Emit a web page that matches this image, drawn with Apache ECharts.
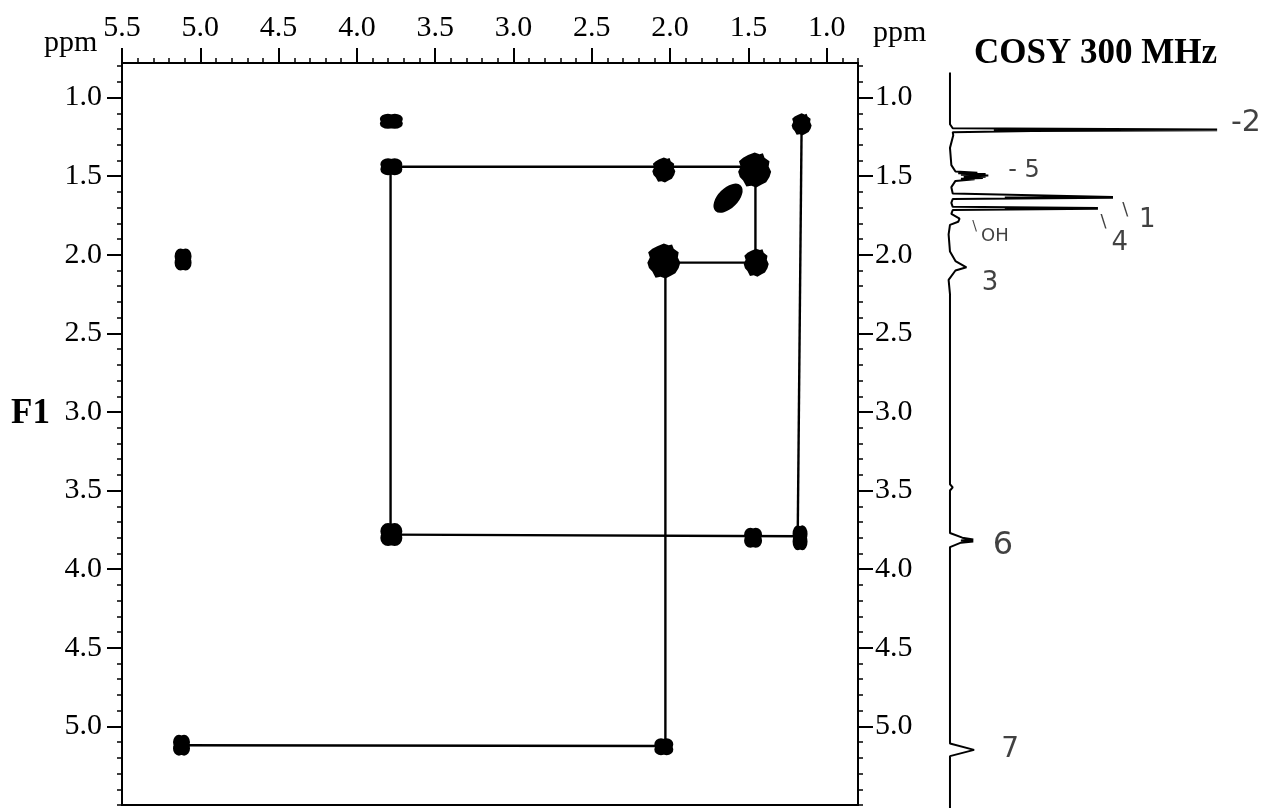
<!DOCTYPE html>
<html>
<head>
<meta charset="utf-8">
<script src="https://cdn.jsdelivr.net/npm/echarts@6/dist/echarts.min.js"></script>
<style>
  html, body { margin: 0; padding: 0; background: #fff; }
  #chart { width: 1274px; height: 809px; }
</style>
</head>
<body>
<div id="chart"></div>
<script>
// COSY cross and diagonal peaks: [F2 shift, F1 shift] in ppm
const crossPeaks = [
  [3.78, 1.15],
  [3.78, 1.44],
  [2.04, 1.46],
  [1.46, 1.46],
  [1.63, 1.64],
  [1.16, 1.17],
  [5.11, 2.03],
  [2.04, 2.04],
  [1.45, 2.05],
  [3.78, 3.78],
  [1.47, 3.80],
  [1.17, 3.80],
  [5.12, 5.12],
  [2.04, 5.13]
];

// Connectivity traces drawn between coupled peaks: [F2, F1] end points
const couplingPaths = [
  [[3.78, 1.44], [1.46, 1.44]],
  [[3.785, 1.44], [3.785, 3.78]],
  [[3.78, 3.78], [1.17, 3.79]],
  [[1.16, 1.17], [1.185, 3.79]],
  [[1.455, 1.46], [1.455, 2.05]],
  [[2.04, 2.05], [1.455, 2.05]],
  [[2.03, 2.04], [2.03, 5.13]],
  [[5.12, 5.12], [2.04, 5.125]]
];

// Labelled tick values (ppm)
const f2Ticks = [1.0, 1.5, 2.0, 2.5, 3.0, 3.5, 4.0, 4.5, 5.0, 5.5];
const f1Ticks = [1.0, 1.5, 2.0, 2.5, 3.0, 3.5, 4.0, 4.5, 5.0];

// 1D proton trace along F1: [relative intensity, ppm]
const spectrumTrace = [
  [0, 0.84], [0, 1.17], [0.01, 1.195], [0.975, 1.203], [0.16, 1.206], [0.975, 1.208],
  [0.3, 1.212], [0.01, 1.22], [0.012, 1.24], [0, 1.32], [0.005, 1.43], [0.02, 1.47],
  [0.1, 1.478], [0.03, 1.482], [0.13, 1.487], [0.04, 1.491], [0.14, 1.496], [0.05, 1.5],
  [0.13, 1.504], [0.05, 1.508], [0.12, 1.512], [0.04, 1.516], [0.09, 1.52], [0.02, 1.53],
  [0.005, 1.57], [0.01, 1.61], [0.595, 1.632], [0.2, 1.635], [0.595, 1.638], [0.01, 1.645],
  [0.005, 1.67], [0.01, 1.695], [0.54, 1.702], [0.2, 1.705], [0.54, 1.708], [0.01, 1.715],
  [0.005, 1.74], [0.035, 1.77], [0.03, 1.79], [0, 1.81], [-0.005, 1.87], [0, 1.98],
  [0.02, 2.04], [0.06, 2.08], [0.02, 2.1], [-0.005, 2.16], [0, 2.25], [0, 3.46],
  [0.01, 3.48], [0, 3.5], [0, 3.77], [0.045, 3.8], [0.085, 3.812], [0.04, 3.818],
  [0.085, 3.824], [0.04, 3.832], [0, 3.86], [0, 5.11], [0.088, 5.15], [0, 5.19], [0, 5.52]
];

// Handwritten peak assignments next to the 1D trace: [intensity, ppm, text]
const peakNotes = [
  [1.08, 1.16, '-2'],
  [0.27, 1.466, '- 5'],
  [0.64, 1.72, '\\'],
  [0.72, 1.78, '1'],
  [0.56, 1.795, '\\'],
  [0.62, 1.93, '4'],
  [0.09, 1.82, '\\'],
  [0.164, 1.885, 'OH'],
  [0.146, 2.18, '3'],
  [0.193, 3.85, '6'],
  [0.22, 5.15, '7']
];

// ---- drawing setup ----
const SERIF = "'Liberation Serif','Times New Roman',serif";
const HAND = "'DejaVu Sans','Noto Sans',sans-serif";
const INK = '#000';

const minorTicks = [];
for (let k = 8; k <= 55; k++) minorTicks.push(k / 10);

// peak outlines
function lobe(cx, cy, r) {
  return 'M' + (cx - r) + ',' + cy + 'a' + r + ',' + r + ' 0 1,0 ' + (2 * r) + ',0' +
         'a' + r + ',' + r + ' 0 1,0 ' + (-2 * r) + ',0Z';
}
const SHAPES = {
  clover: 'path://' + lobe(1.4, 1.4, 1.4) + lobe(2.6, 1.4, 1.4) + lobe(1.4, 2.6, 1.4) + lobe(2.6, 2.6, 1.4),
  blob: 'path://M10,0L13,1L15,0.5L16,3L19,5L18.5,8L20,11L19,14L17,17L14,18.5L11,20L8,19L5,19.5L3,16L1,14L0,11L1.5,8L0.5,5L3,3L6,1.5Z',
  oval: 'path://M0,1a2,1 0 1,0 4,0a2,1 0 1,0 -4,0Z'
};
const peakLook = [
  { shape: 'clover', size: [23, 15] },
  { shape: 'clover', size: [22, 17] },
  { shape: 'blob', size: [23, 25] },
  { shape: 'blob', size: [33, 35] },
  { shape: 'oval', size: [36, 20], rotate: 45 },
  { shape: 'blob', size: [20, 22] },
  { shape: 'clover', size: [17, 22] },
  { shape: 'blob', size: [33, 35] },
  { shape: 'blob', size: [25, 28] },
  { shape: 'clover', size: [22, 23] },
  { shape: 'clover', size: [18, 20] },
  { shape: 'clover', size: [15, 25] },
  { shape: 'clover', size: [17, 21] },
  { shape: 'clover', size: [19, 17] }
];
const noteSize = [30, 24, 18, 26, 18, 26, 14, 18, 26, 32, 28];

function minorAxis(position, extent) {
  return {
    type: 'value', gridIndex: 0, position: position,
    min: extent[0], max: extent[1], inverse: true,
    axisLine: { show: false }, splitLine: { show: false },
    axisTick: { show: true, customValues: minorTicks, length: 5, lineStyle: { color: INK, width: 1.5 } },
    axisLabel: { show: false }
  };
}
function majorAxis(position, extent, ticks, margin) {
  return {
    type: 'value', gridIndex: 0, position: position,
    min: extent[0], max: extent[1], inverse: true,
    axisLine: { show: false }, splitLine: { show: false },
    axisTick: { show: true, customValues: ticks, length: 15, lineStyle: { color: INK, width: 2 } },
    axisLabel: {
      show: true, customValues: ticks, margin: margin,
      formatter: v => Number(v).toFixed(1),
      color: INK, fontFamily: SERIF, fontSize: 30
    }
  };
}

const F2_RANGE = [0.8, 5.5];
const F1_RANGE = [0.78, 5.5];

const series = [];
couplingPaths.forEach(path => {
  series.push({
    type: 'line', xAxisIndex: 1, yAxisIndex: 1, data: path,
    symbol: 'none', silent: true, z: 2,
    lineStyle: { color: INK, width: 2.4 }
  });
});
series.push({
  type: 'scatter', xAxisIndex: 1, yAxisIndex: 1, silent: true, z: 3,
  itemStyle: { color: INK, opacity: 1 },
  data: crossPeaks.map((p, i) => ({
    value: p,
    symbol: SHAPES[peakLook[i].shape],
    symbolSize: peakLook[i].size,
    symbolRotate: peakLook[i].rotate || 0
  }))
});
series.push({
  type: 'line', xAxisIndex: 2, yAxisIndex: 4, data: spectrumTrace,
  symbol: 'none', silent: true, z: 2,
  lineStyle: { color: INK, width: 2 }
});
series.push({
  type: 'scatter', xAxisIndex: 2, yAxisIndex: 4, silent: true, z: 4,
  symbolSize: 1, itemStyle: { color: 'rgba(0,0,0,0)' },
  data: peakNotes.map((n, i) => ({
    value: [n[0], n[1]],
    label: {
      show: true, position: 'inside', formatter: n[2],
      color: '#111', fontFamily: HAND, fontSize: noteSize[i]
    }
  }))
});

const option = {
  animation: false,
  backgroundColor: '#fff',
  title: {
    text: 'COSY 300 MHz', left: 969, top: 31,
    textStyle: { fontFamily: SERIF, fontWeight: 'bold', fontSize: 35, color: INK }
  },
  graphic: [
    { type: 'text', left: 44, top: 28, style: { text: 'ppm', font: '30px ' + SERIF, fill: INK } },
    { type: 'text', left: 873, top: 18, style: { text: 'ppm', font: '30px ' + SERIF, fill: INK } },
    { type: 'text', left: 11, top: 396, style: { text: 'F1', font: 'bold 35px ' + SERIF, fill: INK } }
  ],
  grid: [
    { left: 122, top: 63, width: 736, height: 742, show: true, borderColor: INK, borderWidth: 2, backgroundColor: 'transparent' },
    { left: 944.5, top: 63, width: 328.8, height: 745, show: false }
  ],
  xAxis: [
    minorAxis('top', F2_RANGE),
    majorAxis('top', F2_RANGE, f2Ticks, 20),
    { type: 'value', gridIndex: 1, min: -0.02, max: 1.18, show: false }
  ],
  yAxis: [
    minorAxis('left', F1_RANGE),
    majorAxis('left', F1_RANGE, f1Ticks, 20),
    minorAxis('right', F1_RANGE),
    majorAxis('right', F1_RANGE, f1Ticks, 17),
    { type: 'value', gridIndex: 1, min: 0.78, max: 5.52, inverse: true, show: false }
  ],
  series: series
};

const chart = echarts.init(document.getElementById('chart'), null, { renderer: 'canvas' });
chart.setOption(option);
</script>
</body>
</html>
